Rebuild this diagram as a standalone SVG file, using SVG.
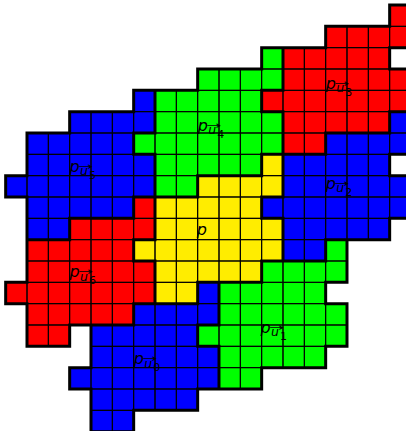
<svg xmlns="http://www.w3.org/2000/svg" width="406" height="431" viewBox="0 0 406 431">
<style>
.cells{stroke:#000;stroke-width:1;vector-effect:non-scaling-stroke}
.r{fill:#FF0000}.g{fill:#00FF00}.b{fill:#0000FF}.y{fill:#FFED00}
.edge{fill:none;stroke:#000;stroke-width:3;stroke-linecap:square;vector-effect:non-scaling-stroke}
text{font-family:"DejaVu Sans",sans-serif;fill:#000}
.p{font-size:16px;font-style:italic}
.u{font-size:12.5px;font-style:italic}
.d{font-size:11px}
.a{font-size:10px}
</style>
<g id="region-u3">
<path class="cells r" transform="translate(5.67 5) scale(21.333)" d="M18 0h1v1h-1zm1 0M15 1h1v1h-1zm1 0h1v1h-1zm1 0h1v1h-1zm1 0h1v1h-1zm1 0M13 2h1v1h-1zm1 0h1v1h-1zm1 0h1v1h-1zm1 0h1v1h-1zm1 0h1v1h-1zm1 0M13 3h1v1h-1zm1 0h1v1h-1zm1 0h1v1h-1zm1 0h1v1h-1zm1 0h1v1h-1zm1 0h1v1h-1zm1 0M12 4h1v1h-1zm1 0h1v1h-1zm1 0h1v1h-1zm1 0h1v1h-1zm1 0h1v1h-1zm1 0h1v1h-1zm1 0h1v1h-1zm1 0M13 5h1v1h-1zm1 0h1v1h-1zm1 0h1v1h-1zm1 0h1v1h-1zm1 0h1v1h-1zm1 0M13 6h1v1h-1zm1 0h1v1h-1zm1 0"/>
<text class="p" x="325.8" y="89">p</text><text class="a" x="334.3" y="87" textLength="15" lengthAdjust="spacingAndGlyphs">→</text><text class="u" x="336.3" y="92.2">u</text><text class="d" x="345.3" y="96">3</text>
</g>
<g id="region-u4">
<path class="cells g" transform="translate(5.67 5) scale(21.333)" d="M12 2h1v1h-1zm1 0M9 3h1v1h-1zm1 0h1v1h-1zm1 0h1v1h-1zm1 0h1v1h-1zm1 0M7 4h1v1h-1zm1 0h1v1h-1zm1 0h1v1h-1zm1 0h1v1h-1zm1 0h1v1h-1zm1 0M7 5h1v1h-1zm1 0h1v1h-1zm1 0h1v1h-1zm1 0h1v1h-1zm1 0h1v1h-1zm1 0h1v1h-1zm1 0M6 6h1v1h-1zm1 0h1v1h-1zm1 0h1v1h-1zm1 0h1v1h-1zm1 0h1v1h-1zm1 0h1v1h-1zm1 0h1v1h-1zm1 0M7 7h1v1h-1zm1 0h1v1h-1zm1 0h1v1h-1zm1 0h1v1h-1zm1 0h1v1h-1zm1 0M7 8h1v1h-1zm1 0h1v1h-1zm1 0"/>
<text class="p" x="197.8" y="131">p</text><text class="a" x="206.3" y="129" textLength="15" lengthAdjust="spacingAndGlyphs">→</text><text class="u" x="208.3" y="134.2">u</text><text class="d" x="217.3" y="138">4</text>
</g>
<g id="region-u2">
<path class="cells b" transform="translate(5.67 5) scale(21.333)" d="M18 5h1v1h-1zm1 0M15 6h1v1h-1zm1 0h1v1h-1zm1 0h1v1h-1zm1 0h1v1h-1zm1 0M13 7h1v1h-1zm1 0h1v1h-1zm1 0h1v1h-1zm1 0h1v1h-1zm1 0h1v1h-1zm1 0M13 8h1v1h-1zm1 0h1v1h-1zm1 0h1v1h-1zm1 0h1v1h-1zm1 0h1v1h-1zm1 0h1v1h-1zm1 0M12 9h1v1h-1zm1 0h1v1h-1zm1 0h1v1h-1zm1 0h1v1h-1zm1 0h1v1h-1zm1 0h1v1h-1zm1 0h1v1h-1zm1 0M13 10h1v1h-1zm1 0h1v1h-1zm1 0h1v1h-1zm1 0h1v1h-1zm1 0h1v1h-1zm1 0M13 11h1v1h-1zm1 0h1v1h-1zm1 0"/>
<text class="p" x="325.8" y="189">p</text><text class="a" x="334.3" y="187" textLength="15" lengthAdjust="spacingAndGlyphs">→</text><text class="u" x="336.3" y="192.2">u</text><text class="d" x="345.3" y="196">2</text>
</g>
<g id="region-u5">
<path class="cells b" transform="translate(5.67 5) scale(21.333)" d="M6 4h1v1h-1zm1 0M3 5h1v1h-1zm1 0h1v1h-1zm1 0h1v1h-1zm1 0h1v1h-1zm1 0M1 6h1v1h-1zm1 0h1v1h-1zm1 0h1v1h-1zm1 0h1v1h-1zm1 0h1v1h-1zm1 0M1 7h1v1h-1zm1 0h1v1h-1zm1 0h1v1h-1zm1 0h1v1h-1zm1 0h1v1h-1zm1 0h1v1h-1zm1 0M0 8h1v1h-1zm1 0h1v1h-1zm1 0h1v1h-1zm1 0h1v1h-1zm1 0h1v1h-1zm1 0h1v1h-1zm1 0h1v1h-1zm1 0M1 9h1v1h-1zm1 0h1v1h-1zm1 0h1v1h-1zm1 0h1v1h-1zm1 0h1v1h-1zm1 0M1 10h1v1h-1zm1 0h1v1h-1zm1 0"/>
<text class="p" x="69.5" y="172">p</text><text class="a" x="78" y="170" textLength="15" lengthAdjust="spacingAndGlyphs">→</text><text class="u" x="80" y="175.2">u</text><text class="d" x="89" y="179">5</text>
</g>
<g id="region-p">
<path class="cells y" transform="translate(5.67 5) scale(21.333)" d="M12 7h1v1h-1zm1 0M9 8h1v1h-1zm1 0h1v1h-1zm1 0h1v1h-1zm1 0h1v1h-1zm1 0M7 9h1v1h-1zm1 0h1v1h-1zm1 0h1v1h-1zm1 0h1v1h-1zm1 0h1v1h-1zm1 0M7 10h1v1h-1zm1 0h1v1h-1zm1 0h1v1h-1zm1 0h1v1h-1zm1 0h1v1h-1zm1 0h1v1h-1zm1 0M6 11h1v1h-1zm1 0h1v1h-1zm1 0h1v1h-1zm1 0h1v1h-1zm1 0h1v1h-1zm1 0h1v1h-1zm1 0h1v1h-1zm1 0M7 12h1v1h-1zm1 0h1v1h-1zm1 0h1v1h-1zm1 0h1v1h-1zm1 0h1v1h-1zm1 0M7 13h1v1h-1zm1 0h1v1h-1zm1 0"/>
<text class="p" x="196.8" y="235">p</text>
</g>
<g id="region-u6">
<path class="cells r" transform="translate(5.67 5) scale(21.333)" d="M6 9h1v1h-1zm1 0M3 10h1v1h-1zm1 0h1v1h-1zm1 0h1v1h-1zm1 0h1v1h-1zm1 0M1 11h1v1h-1zm1 0h1v1h-1zm1 0h1v1h-1zm1 0h1v1h-1zm1 0h1v1h-1zm1 0M1 12h1v1h-1zm1 0h1v1h-1zm1 0h1v1h-1zm1 0h1v1h-1zm1 0h1v1h-1zm1 0h1v1h-1zm1 0M0 13h1v1h-1zm1 0h1v1h-1zm1 0h1v1h-1zm1 0h1v1h-1zm1 0h1v1h-1zm1 0h1v1h-1zm1 0h1v1h-1zm1 0M1 14h1v1h-1zm1 0h1v1h-1zm1 0h1v1h-1zm1 0h1v1h-1zm1 0h1v1h-1zm1 0M1 15h1v1h-1zm1 0h1v1h-1zm1 0"/>
<text class="p" x="69.5" y="277.3">p</text><text class="a" x="78" y="275.3" textLength="15" lengthAdjust="spacingAndGlyphs">→</text><text class="u" x="80" y="280.5">u</text><text class="d" x="89" y="284.3">6</text>
</g>
<g id="region-u1">
<path class="cells g" transform="translate(5.67 5) scale(21.333)" d="M15 11h1v1h-1zm1 0M12 12h1v1h-1zm1 0h1v1h-1zm1 0h1v1h-1zm1 0h1v1h-1zm1 0M10 13h1v1h-1zm1 0h1v1h-1zm1 0h1v1h-1zm1 0h1v1h-1zm1 0h1v1h-1zm1 0M10 14h1v1h-1zm1 0h1v1h-1zm1 0h1v1h-1zm1 0h1v1h-1zm1 0h1v1h-1zm1 0h1v1h-1zm1 0M9 15h1v1h-1zm1 0h1v1h-1zm1 0h1v1h-1zm1 0h1v1h-1zm1 0h1v1h-1zm1 0h1v1h-1zm1 0h1v1h-1zm1 0M10 16h1v1h-1zm1 0h1v1h-1zm1 0h1v1h-1zm1 0h1v1h-1zm1 0h1v1h-1zm1 0M10 17h1v1h-1zm1 0h1v1h-1zm1 0"/>
<text class="p" x="260.5" y="333">p</text><text class="a" x="269" y="331" textLength="15" lengthAdjust="spacingAndGlyphs">→</text><text class="u" x="271" y="336.2">u</text><text class="d" x="280" y="340">1</text>
</g>
<g id="region-u0">
<path class="cells b" transform="translate(5.67 5) scale(21.333)" d="M9 13h1v1h-1zm1 0M6 14h1v1h-1zm1 0h1v1h-1zm1 0h1v1h-1zm1 0h1v1h-1zm1 0M4 15h1v1h-1zm1 0h1v1h-1zm1 0h1v1h-1zm1 0h1v1h-1zm1 0h1v1h-1zm1 0M4 16h1v1h-1zm1 0h1v1h-1zm1 0h1v1h-1zm1 0h1v1h-1zm1 0h1v1h-1zm1 0h1v1h-1zm1 0M3 17h1v1h-1zm1 0h1v1h-1zm1 0h1v1h-1zm1 0h1v1h-1zm1 0h1v1h-1zm1 0h1v1h-1zm1 0h1v1h-1zm1 0M4 18h1v1h-1zm1 0h1v1h-1zm1 0h1v1h-1zm1 0h1v1h-1zm1 0h1v1h-1zm1 0M4 19h1v1h-1zm1 0h1v1h-1zm1 0"/>
<text class="p" x="133.8" y="364.3">p</text><text class="a" x="142.3" y="362.3" textLength="15" lengthAdjust="spacingAndGlyphs">→</text><text class="u" x="144.3" y="367.5">u</text><text class="d" x="153.3" y="371.3">0</text>
</g>
<g id="boundaries">
<path class="edge" transform="translate(5.67 5) scale(21.333)" d="M18 0H19M15 1H18M12 2H15M18 2H19M9 3H12M18 3H19M6 4H9M12 4H13M3 5H6M12 5H13M18 5H19M1 6H3M6 6H7M15 6H18M6 7H7M12 7H15M18 7H19M0 8H1M9 8H12M18 8H19M0 9H1M6 9H9M12 9H13M3 10H6M12 10H13M18 10H19M1 11H3M6 11H7M15 11H18M6 12H7M12 12H15M0 13H1M9 13H12M15 13H16M0 14H1M6 14H9M15 14H16M3 15H6M9 15H10M1 16H3M9 16H10M15 16H16M3 17H4M12 17H15M3 18H4M9 18H12M6 19H9M4 20H6M18 0V1M19 0V1M15 1V2M19 1V2M12 2V3M13 2V3M18 2V3M9 3V4M13 3V4M19 3V4M6 4V5M7 4V5M12 4V5M19 4V5M3 5V6M7 5V6M13 5V6M18 5V6M19 5V6M1 6V7M6 6V7M13 6V7M15 6V7M19 6V7M1 7V8M7 7V8M12 7V8M13 7V8M18 7V8M0 8V9M7 8V9M9 8V9M13 8V9M19 8V9M1 9V10M6 9V10M7 9V10M12 9V10M19 9V10M1 10V11M3 10V11M7 10V11M13 10V11M18 10V11M1 11V12M6 11V12M13 11V12M15 11V12M16 11V12M1 12V13M7 12V13M12 12V13M16 12V13M0 13V14M7 13V14M9 13V14M10 13V14M15 13V14M1 14V15M6 14V15M10 14V15M16 14V15M1 15V16M3 15V16M4 15V16M9 15V16M16 15V16M4 16V17M10 16V17M15 16V17M3 17V18M10 17V18M12 17V18M4 18V19M9 18V19M4 19V20M6 19V20"/>
</g>
</svg>
